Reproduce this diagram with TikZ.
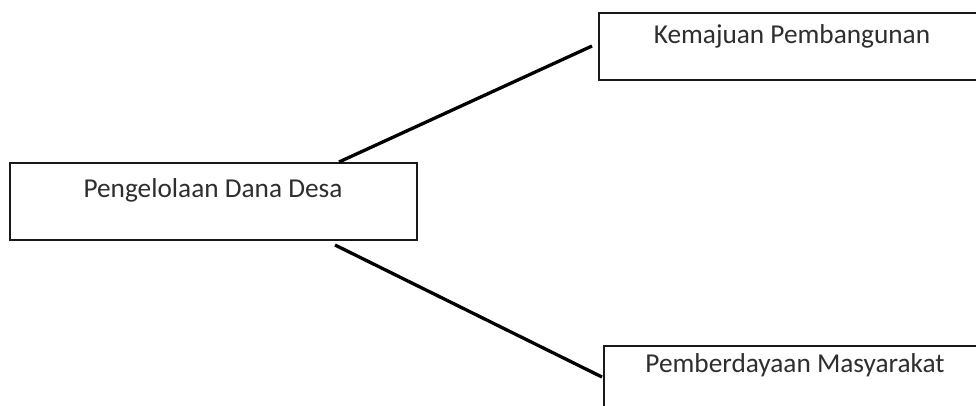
\documentclass[tikz,border=0pt]{standalone}
\usepackage{fontspec}
\setmainfont{Carlito}
\begin{document}
\begin{tikzpicture}[x=1pt,y=-1pt,
  box/.style={draw=black!90, line width=1.8pt, fill=none},
  lbl/.style={inner sep=0pt, anchor=base, text=black!82, font=\fontsize{27.3}{30}\selectfont},
  conn/.style={line width=3.3pt, black}]
\path[use as bounding box, clip] (0,0) rectangle (976,405);
\fill[white] (0,0) rectangle (976,405);
% boxes
\draw[box] (10,163) rectangle (417,240);
\draw[box] (599,13) rectangle (1000,80);
\draw[box] (604,346) rectangle (1000,430);
\node[lbl] (pdd) at (213,197) {Pengelolaan Dana Desa};
\node[lbl] (kp) at (792,43) {Kemajuan Pembangunan};
\node[lbl] (pm) at (795,372) {Pemberdayaan Masyarakat};
% connector endpoints
\coordinate (a1) at (339,162);
\coordinate (a2) at (592,46);
\coordinate (b1) at (335,245);
\coordinate (b2) at (602,377);
\draw[conn] (a1) -- (a2);
\draw[conn] (b1) -- (b2);
\end{tikzpicture}
\end{document}
